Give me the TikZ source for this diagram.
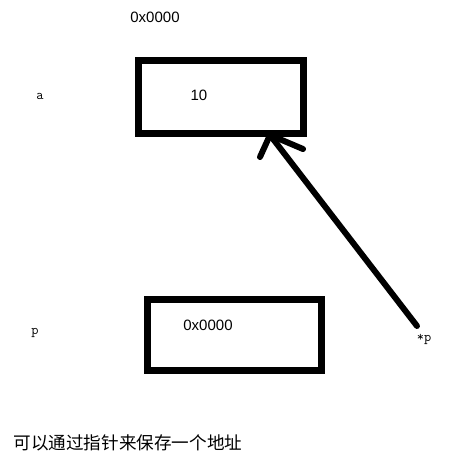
\documentclass[tikz,border=0pt]{standalone}
\usepackage{fontspec}
\setmainfont{Liberation Sans}
\newfontfamily\cjk{Noto Sans CJK SC}
\begin{document}
\begin{tikzpicture}[x=1pt,y=-1pt,
  cell/.style={draw=black,line width=7pt,minimum width=165pt,minimum height=73pt,inner sep=0pt,anchor=north west},
  addr/.style={font=\fontsize{15}{17}\selectfont,inner sep=0pt},
  lbl/.style={font=\ttfamily\fontsize{14}{16}\selectfont,inner sep=0pt},
  ptr/.style={line width=6pt,line cap=round,line join=round}]
\useasboundingbox (0,0) rectangle (452,466);
\node[cell] (boxa) at (134.5,56.5) {};
\node[cell,minimum width=174pt,minimum height=71pt] (boxp) at (143.5,295.5) {};
\node[addr] (addrtop) at (155,17) {0x0000};
\node[addr] (val) at (199,95) {10};
\node[lbl] (la) at (40,96) {a};
\node[lbl] (lp) at (35,333) {p};
\node[addr] (addrp) at (208,325) {0x0000};
\node[lbl] (lstar) at (424,339) {*p};
\coordinate (tail) at (417,326);
\coordinate (tip) at (270,135);
\coordinate (armL) at (260,157);
\coordinate (armR) at (303,149);
\draw[ptr] (tail) -- (tip);
\draw[ptr] (armL) -- (tip) -- (armR);
\node[font=\cjk\fontsize{17.6}{19}\selectfont,inner sep=0pt] (cap) at (128,443) {可以通过指针来保存一个地址};
\end{tikzpicture}
\end{document}
